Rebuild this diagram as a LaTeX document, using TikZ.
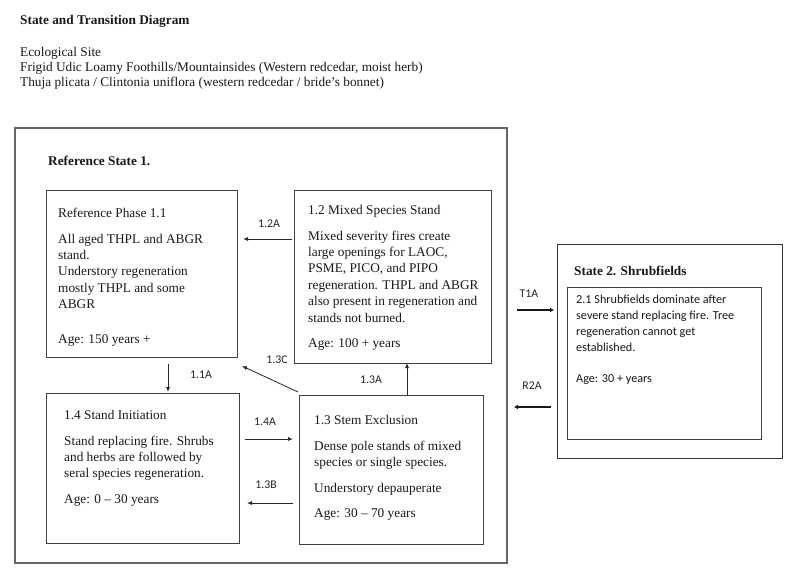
\documentclass[tikz,border=0pt]{standalone}
\usepackage{fontspec}
\setmainfont{Liberation Serif}
\newfontfamily\calfont{Carlito}
\usetikzlibrary{arrows.meta}
\tikzset{
  frame/.style={draw=black!60, line width=1.6pt, inner sep=0pt, outer sep=0pt, anchor=north west},
  box/.style={draw=black!75, line width=0.9pt, inner sep=0pt, outer sep=0pt, anchor=north west},
  txt/.style={inner sep=0pt, anchor=north west, align=left, text=black!90, font=\fontsize{13.3}{16.4}\selectfont},
  sanstxt/.style={inner sep=0pt, anchor=north west, align=left, text=black!90, font=\calfont\fontsize{12.2}{16}\selectfont},
  lbl/.style={inner sep=0pt, text=black!85, font=\calfont\fontsize{11.8}{13}\selectfont},
  arr/.style={draw=black!85, line width=0.8pt, -{Latex[length=5pt,width=4pt]}},
  thickarr/.style={draw=black!90, line width=2.2pt, -{Latex[length=4pt,width=5pt]}},
}
\newcommand{\pgap}{\\[9.2pt]}
\begin{document}
\begin{tikzpicture}[x=1pt,y=-1pt]
\useasboundingbox[fill=white] (0,0) rectangle (800,571);
% header
\node[txt, font=\bfseries\fontsize{13.3}{15}\selectfont] (title) at (20,15) {State and Transition Diagram};
\node[txt, font=\fontsize{13.3}{15}\selectfont] (site) at (20,47) {Ecological Site\\Frigid Udic Loamy Foothills/Mountainsides (Western redcedar, moist herb)\\Thuja plicata / Clintonia uniflora (western redcedar / bride's bonnet)};
% state frames
\node[frame, minimum width=492pt, minimum height=435pt] (s1) at (15,128) {};
\node[txt, font=\bfseries\fontsize{13.3}{15}\selectfont] (s1t) at (48,156) {Reference State 1.};
\node[box, draw=black!80, minimum width=225pt, minimum height=214pt] (s2) at (557,244) {};
\node[txt, font=\bfseries\fontsize{13.3}{15}\selectfont] (s2t) at (574,266) {State 2. Shrubfields};
\node[box, minimum width=194pt, minimum height=152pt] (b21) at (567,287) {};
\node[sanstxt] (t21) at (576,295) {2.1 Shrubfields dominate after\\severe stand replacing fire. Tree\\regeneration cannot get\\established.\\[15pt]Age: 30 + years};
% phase boxes
\node[box, minimum width=191pt, minimum height=167pt] (b11) at (46,190) {};
\node[txt] (t11) at (58,208) {Reference Phase 1.1\pgap All aged THPL and ABGR\\stand.\\Understory regeneration\\mostly THPL and some\\ABGR\\[18pt]Age: 150 years +};
\node[box, minimum width=197pt, minimum height=173pt] (b12) at (294,190) {};
\node[txt] (t12) at (308,205) {1.2 Mixed Species Stand\pgap Mixed severity fires create\\large openings for LAOC,\\PSME, PICO, and PIPO\\regeneration. THPL and ABGR\\also present in regeneration and\\stands not burned.\pgap Age: 100 + years};
\node[box, minimum width=193pt, minimum height=150pt] (b14) at (46,393) {};
\node[txt] (t14) at (64,410) {1.4 Stand Initiation\pgap Stand replacing fire. Shrubs\\and herbs are followed by\\seral species regeneration.\pgap Age: 0 -- 30 years};
\node[box, minimum width=184pt, minimum height=149pt] (b13) at (299,395) {};
\node[txt] (t13) at (314,415) {1.3 Stem Exclusion\pgap Dense pole stands of mixed\\species or single species.\pgap Understory depauperate\pgap Age: 30 -- 70 years};
% transitions inside state 1
\draw[arr] ([xshift=-2pt,yshift=37.5pt]b12.west) -- ([xshift=6pt,yshift=34.5pt]b11.east);
\node[lbl] (l12a) at (269,224) {1.2A};
\draw[arr] ([xshift=26.5pt,yshift=-7pt]b11.south) -- ([xshift=25.5pt,yshift=1pt]b14.north);
\node[lbl] (l11a) at (201,375) {1.1A};
\draw[arr] ([xshift=-1pt,yshift=3pt]b13.north west) -- ([xshift=5pt,yshift=-9pt]b11.south east);
\node[lbl] (l13c) at (277,360) {1.3C};
\draw[arr] ([xshift=16pt]b13.north) -- ([xshift=14.5pt]b12.south);
\node[lbl] (l13a) at (371,380) {1.3A};
\draw[arr] ([xshift=6pt,yshift=29pt]b14.east) -- ([xshift=-6pt,yshift=30.5pt]b13.west);
\node[lbl] (l14a) at (265,422) {1.4A};
\draw[arr] ([xshift=-6pt,yshift=-33.5pt]b13.west) -- ([xshift=8pt,yshift=-35pt]b14.east);
\node[lbl] (l13b) at (266,485) {1.3B};
% transitions between states
\draw[thickarr] ([xshift=10pt,yshift=35.5pt]s1.east) -- ([xshift=-3pt,yshift=41pt]s2.west);
\node[lbl] (lt1a) at (529,294) {T1A};
\draw[thickarr] ([xshift=-6pt,yshift=-56pt]s2.west) -- ([xshift=7pt,yshift=-61.5pt]s1.east);
\node[lbl] (lr2a) at (532,386) {R2A};
\end{tikzpicture}
\end{document}
